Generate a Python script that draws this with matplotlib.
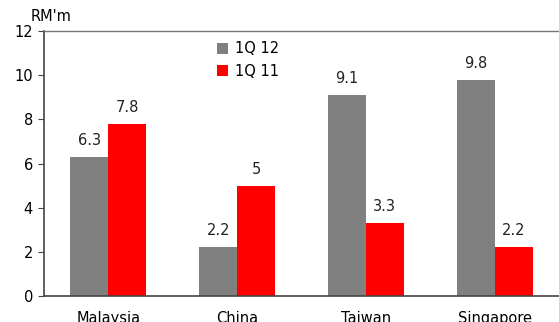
import numpy as np
import matplotlib.pyplot as plt

countries = ["Malaysia", "China", "Taiwan", "Singapore"]
q1_12 = [6.3, 2.2, 9.1, 9.8]
q1_11 = [7.8, 5, 3.3, 2.2]
q1_12_labels = ["6.3", "2.2", "9.1", "9.8"]
q1_11_labels = ["7.8", "5", "3.3", "2.2"]

plt.rcParams['font.family'] = ['DejaVu Sans']
fs = 10.5

fig = plt.figure(figsize=(5.59, 3.22), dpi=100)
ax = fig.add_axes([0.0787, 0.0807, 0.9213, 0.823])

x = np.arange(len(countries))
w = 0.295
b1 = ax.bar(x - w / 2, q1_12, w, color='#808080', label='1Q 12')
b2 = ax.bar(x + w / 2, q1_11, w, color='#ff0000', label='1Q 11')

for bars, labels in [(b1, q1_12_labels), (b2, q1_11_labels)]:
    for rect, lab in zip(bars, labels):
        ax.annotate(lab, (rect.get_x() + rect.get_width() / 2, rect.get_height()),
                    xytext=(0, 6.5), textcoords='offset points',
                    ha='center', va='bottom', fontsize=fs, color='#222222')

ax.set_xlim(-0.5, 3.5)
ax.set_ylim(0, 12)
ax.set_yticks(range(0, 13, 2))
ax.set_xticks(x)
ax.set_xticklabels(countries, fontsize=fs)
ax.tick_params(axis='x', length=0, pad=11)
ax.tick_params(axis='y', direction='out', length=4, labelsize=fs, pad=4, color='#444444')

ax.spines['right'].set_visible(False)
ax.spines['top'].set_color('#777777')
ax.spines['top'].set_linewidth(1.0)
ax.spines['left'].set_color('#444444')
ax.spines['bottom'].set_color('#444444')
ax.spines['left'].set_linewidth(1.2)
ax.spines['bottom'].set_linewidth(1.2)

ax.legend(loc='upper left', bbox_to_anchor=(0.31, 1.01), frameon=False,
          fontsize=fs, handlelength=0.75, handleheight=0.75, handletextpad=0.5,
          labelspacing=0.5)

fig.text(0.054, 0.948, "RM'm", fontsize=fs, ha='left', va='center')

fig.savefig('out.png', dpi=100)
